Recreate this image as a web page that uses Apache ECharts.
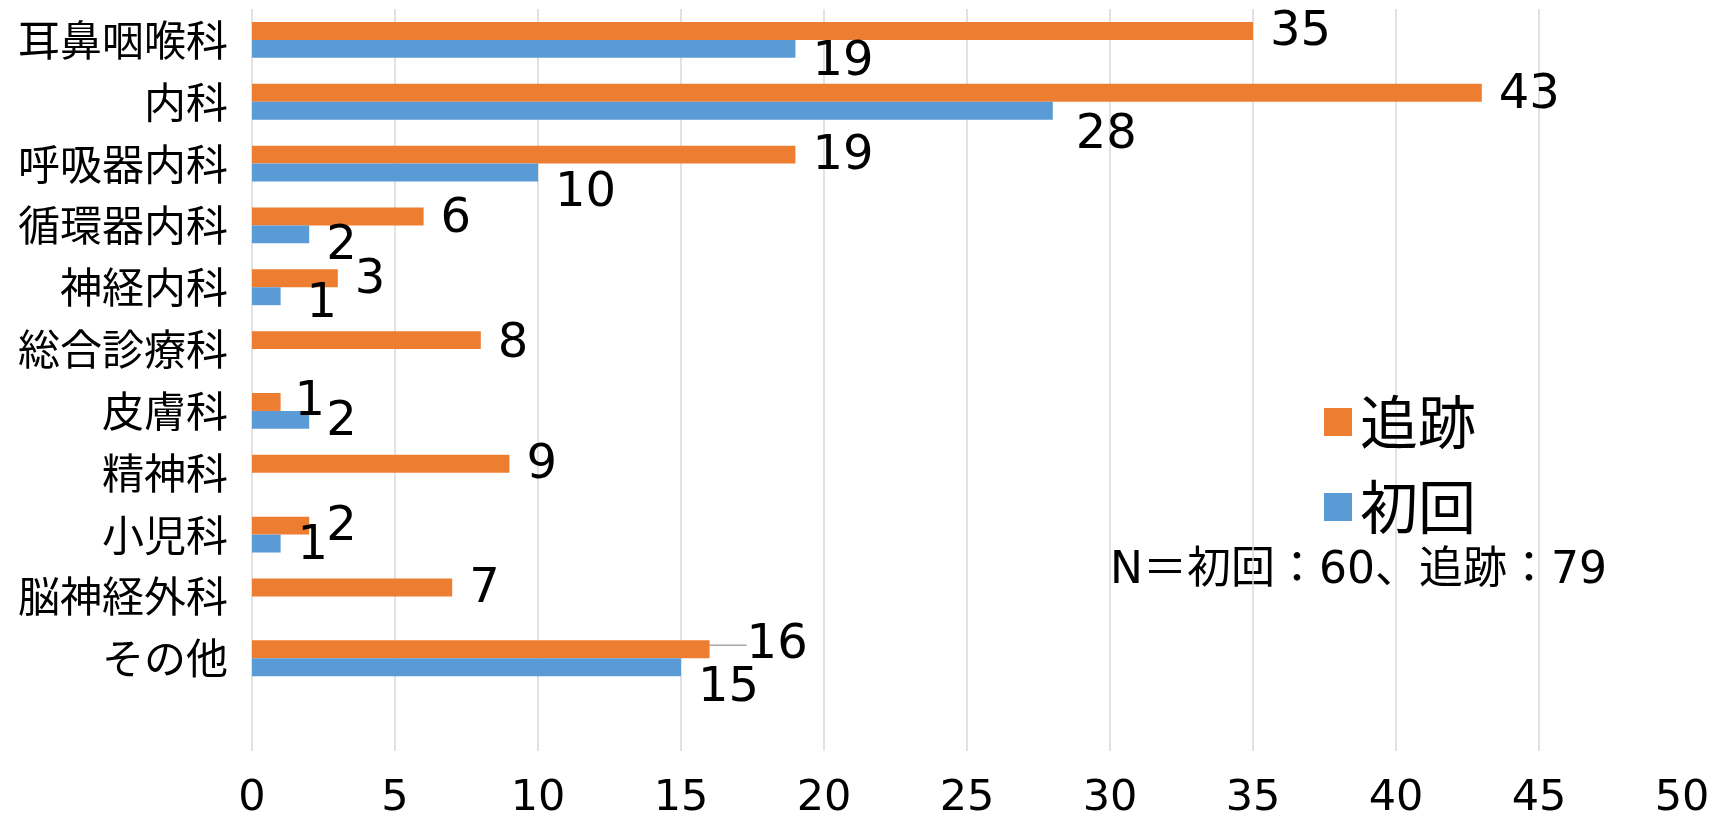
<!DOCTYPE html>
<html>
<head>
<meta charset="utf-8">
<script src="https://cdn.jsdelivr.net/npm/echarts@6/dist/echarts.min.js"></script>
<style>
html,body{margin:0;padding:0;background:#fff;}
#chart{width:1716px;height:819px;}
</style>
</head>
<body>
<div id="chart"></div>
<script>
// ---- data ----
const categories = ['耳鼻咽喉科','内科','呼吸器内科','循環器内科','神経内科','総合診療科','皮膚科','精神科','小児科','脳神経外科','その他'];
const seriesNames = ['追跡','初回'];
const followUp = [35, 43, 19, 6, 3, 8, 1, 9, 2, 7, 16];
const initial = [19, 28, 10, 2, 1, null, 2, null, 1, null, 15];
const xTicks = { min: 0, max: 50, step: 5 };
const noteText = 'N＝初回：60、追跡：79';

// ---- label nudges (styling only, manual label placement in the original) ----
const nudgeFollow = [[0,2],[0,3],[0,2],[0,3],[0,2],[0,4],[-3,1],[0,2],[0,2],[0,2],[20,-4]];
const nudgeInit = [[0,14],[6,25],[0,21],[0,12],[9,8],null,[0,3],null,[0,3],null,[0,21]];

const ORANGE = '#ED7D31', BLUE = '#5B9BD5', GRID = '#D9D9D9';
const CJK = '"Noto Sans CJK JP", "Noto Sans", sans-serif';
const NUM = '"DejaVu Sans", sans-serif';
const MIX = '"DejaVu Sans", "Noto Sans CJK JP", sans-serif';

const chart = echarts.init(document.getElementById('chart'), null, {renderer: 'canvas'});

function mkLayout(nudges) {
  return function (p) {
    const n = nudges[p.dataIndex];
    return n ? { dx: n[0], dy: n[1] } : {};
  };
}

const labelCommon = {
  show: true,
  position: 'right',
  distance: 17,
  fontFamily: NUM,
  fontSize: 48,
  color: '#000',
  formatter: p => (p.value == null ? '' : String(p.value))
};

const followData = followUp.map((v, i) => {
  const item = { value: v };
  if (i === followUp.length - 1) {
    item.labelLine = { show: true, lineStyle: { color: '#A6A6A6', width: 1.5 } };
  }
  return item;
});

const option = {
  backgroundColor: '#fff',
  animation: false,
  grid: { left: 252, right: 34, top: 9, bottom: 68, containLabel: false, outerBoundsMode: 'none' },
  legend: {
    orient: 'vertical',
    left: 1319,
    top: 388,
    data: seriesNames,
    icon: 'rect',
    itemWidth: 28,
    itemHeight: 28,
    itemGap: 27,
    textStyle: { fontFamily: CJK, fontSize: 58, color: '#000', padding: [0,0,0,3] }
  },
  xAxis: {
    type: 'value',
    min: xTicks.min,
    max: xTicks.max,
    interval: xTicks.step,
    axisLine: { show: false },
    axisTick: { show: false },
    splitLine: { show: true, showMinLine: true, showMaxLine: false, lineStyle: { color: GRID, width: 1.5 } },
    axisLabel: { fontFamily: NUM, fontSize: 43, color: '#000', margin: 26 }
  },
  yAxis: {
    type: 'category',
    inverse: true,
    data: categories.concat(['']),
    axisLine: { show: false },
    axisTick: { show: false },
    axisLabel: { fontFamily: CJK, fontSize: 42, color: '#000', margin: 24 }
  },
  series: [
    {
      name: seriesNames[0],
      type: 'bar',
      data: followData,
      itemStyle: { color: ORANGE },
      barGap: '0%',
      barCategoryGap: '42%',
      label: labelCommon,
      labelLine: { show: false },
      labelLayout: mkLayout(nudgeFollow)
    },
    {
      name: seriesNames[1],
      type: 'bar',
      data: initial,
      itemStyle: { color: BLUE },
      barGap: '0%',
      barCategoryGap: '42%',
      label: labelCommon,
      labelLayout: mkLayout(nudgeInit)
    }
  ],
  graphic: [
    {
      type: 'text',
      left: 1110,
      top: 550,
      style: { text: noteText, fontFamily: MIX, fontSize: 44, fill: '#000' }
    }
  ]
};

chart.setOption(option);
</script>
</body>
</html>
